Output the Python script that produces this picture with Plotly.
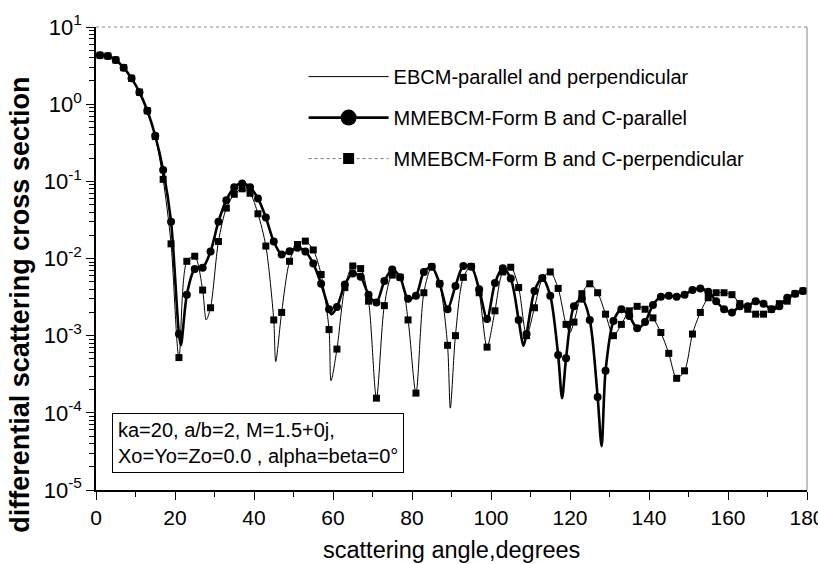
import plotly.graph_objects as go

# ---------------- data ----------------
angles = [1, 3, 5, 7, 9, 11, 13, 15, 17, 19,
          21, 23, 25, 27, 29, 31, 33, 35, 37, 39,
          41, 43, 45, 47, 49, 51, 53, 55, 57, 59,
          61, 63, 65, 67, 69, 71, 73, 75, 77, 79,
          81, 83, 85, 87, 89, 91, 93, 95, 97, 99,
          101, 103, 105, 107, 109, 111, 113, 115, 117, 119,
          121, 123, 125, 127, 129, 131, 133, 135, 137, 139,
          141, 143, 145, 147, 149, 151, 153, 155, 157, 159,
          161, 163, 165, 167, 169, 171, 173, 175, 177, 179]

parallel = [4.3, 4.2, 3.74, 2.97, 2.16, 1.43, 0.82, 0.39, 0.14, 0.030,
            1.05e-3, 3.4e-3, 7.3e-3, 7.6e-3, 0.0123, 0.030, 0.057, 0.084, 0.094, 0.084,
            0.060, 0.034, 0.0166, 0.0113, 0.0124, 0.0138, 0.0123, 8.6e-3, 4.7e-3, 2.2e-3,
            2.35e-3, 4.6e-3, 6.4e-3, 5.8e-3, 3.4e-3, 2.7e-3, 5.1e-3, 7.2e-3, 5.7e-3, 3.0e-3,
            3.3e-3, 6.7e-3, 7.8e-3, 4.7e-3, 2.2e-3, 4.4e-3, 8.0e-3, 7.8e-3, 4.0e-3, 1.65e-3,
            4.8e-3, 7.5e-3, 5.5e-3, 1.6e-3, 1.05e-3, 3.8e-3, 5.6e-3, 3.3e-3, 5.6e-4, 5.1e-4,
            2.4e-3, 3.0e-3, 1.6e-3, 1.6e-4, 3.5e-4, 1.55e-3, 2.2e-3, 1.8e-3, 1.25e-3, 1.5e-3,
            2.5e-3, 3.2e-3, 3.3e-3, 3.2e-3, 3.4e-3, 3.9e-3, 4.1e-3, 3.7e-3, 2.8e-3, 2.2e-3,
            2.0e-3, 2.4e-3, 2.4e-3, 2.8e-3, 2.6e-3, 2.2e-3, 2.4e-3, 3.1e-3, 3.5e-3, 3.8e-3]

perpendicular = [4.3, 4.2, 3.74, 2.97, 2.16, 1.43, 0.82, 0.38, 0.106, 0.0155,
                 5.2e-4, 9.2e-3, 0.0107, 3.9e-3, 2.3e-3, 0.0166, 0.045, 0.068, 0.080, 0.070,
                 0.038, 0.0145, 1.6e-3, 2.0e-3, 9.2e-3, 0.0152, 0.0168, 0.0129, 6.2e-3, 1.2e-3,
                 6.7e-4, 4.2e-3, 8.0e-3, 7.4e-3, 2.8e-3, 1.55e-4, 2.45e-3, 6.1e-3, 5.7e-3, 1.6e-3,
                 1.8e-4, 3.6e-3, 7.8e-3, 4.7e-3, 7.5e-4, 1.0e-3, 5.7e-3, 7.9e-3, 3.6e-3, 7.1e-4,
                 2.1e-3, 6.7e-3, 7.7e-3, 4.2e-3, 1.0e-3, 2.3e-3, 5.5e-3, 6.7e-3, 4.1e-3, 1.4e-3,
                 1.5e-3, 3.5e-3, 4.7e-3, 3.6e-3, 1.9e-3, 1.0e-3, 1.4e-3, 2.1e-3, 2.4e-3, 2.2e-3,
                 1.7e-3, 1.1e-3, 5.9e-4, 2.8e-4, 3.5e-4, 1.05e-3, 2.0e-3, 3.1e-3, 3.6e-3, 3.6e-3,
                 3.4e-3, 2.6e-3, 2.2e-3, 1.9e-3, 1.9e-3, 2.2e-3, 2.6e-3, 2.8e-3, 3.5e-3, 3.8e-3]

# extra points of the continuous (EBCM) curves between the 2-degree markers
parallel_dip_angles = [21.5, 59.6, 108.2, 118.0, 128.0]
parallel_dip_values = [7.5e-4, 1.9e-3, 7.4e-4, 1.55e-4, 3.7e-5]
perp_dip_angles = [27.9, 45.5, 59.5, 89.7, 120.0]
perp_dip_values = [1.6e-3, 4.6e-4, 2.6e-4, 1.15e-4, 1.1e-3]

x_tick_values = [0, 20, 40, 60, 80, 100, 120, 140, 160, 180]
x_tick_labels = ["0", "20", "40", "60", "80", "100", "120", "140", "160", "180"]
y_tick_values = [1e-5, 1e-4, 1e-3, 1e-2, 1e-1, 1, 10]
y_tick_labels = ["10<sup>-5</sup>", "10<sup>-4</sup>", "10<sup>-3</sup>", "10<sup>-2</sup>",
                 "10<sup>-1</sup>", "10<sup>0</sup>", "10<sup>1</sup>"]


def merged(xs, ys, dxs, dys):
    pts = sorted(zip(list(xs) + list(dxs), list(ys) + list(dys)))
    return [p[0] for p in pts], [p[1] for p in pts]


par_x, par_y = merged(angles, parallel, parallel_dip_angles, parallel_dip_values)
perp_x, perp_y = merged(angles, perpendicular, perp_dip_angles, perp_dip_values)

FONT = "Liberation Sans, Arial, sans-serif"

fig = go.Figure()

# EBCM curves (thin continuous lines)
fig.add_trace(go.Scatter(x=perp_x, y=perp_y, mode="lines",
                         line=dict(color="black", width=1, shape="spline", smoothing=0.8),
                         showlegend=False, hoverinfo="skip"))
fig.add_trace(go.Scatter(x=par_x, y=par_y, mode="lines",
                         line=dict(color="black", width=1, shape="spline", smoothing=0.8),
                         showlegend=False, hoverinfo="skip"))
# MMEBCM perpendicular squares
fig.add_trace(go.Scatter(x=angles, y=perpendicular, mode="markers",
                         marker=dict(symbol="square", size=7, color="black"),
                         showlegend=False))
# MMEBCM parallel: thick line + circles
fig.add_trace(go.Scatter(x=par_x, y=par_y, mode="lines",
                         line=dict(color="black", width=2.6, shape="spline", smoothing=0.8),
                         showlegend=False, hoverinfo="skip"))
fig.add_trace(go.Scatter(x=angles, y=parallel, mode="markers",
                         marker=dict(symbol="circle", size=8, color="black"),
                         showlegend=False))

# legend entries
fig.add_trace(go.Scatter(x=[None], y=[None], mode="lines", name="EBCM-parallel and perpendicular",
                         line=dict(color="black", width=1), legendgroup="a"))
fig.add_trace(go.Scatter(x=[None], y=[None], mode="lines+markers", name="MMEBCM-Form B and C-parallel",
                         line=dict(color="black", width=2.6),
                         marker=dict(symbol="circle", size=16, color="black"), legendgroup="b"))
fig.add_trace(go.Scatter(x=[None], y=[None], mode="lines+markers",
                         name="MMEBCM-Form B and C-perpendicular",
                         line=dict(color="#777777", width=1, dash="dot"),
                         marker=dict(symbol="square", size=11, color="black"), legendgroup="c"))

fig.update_layout(
    width=818, height=564,
    margin=dict(l=96, r=11, t=27, b=74, autoexpand=False),
    paper_bgcolor="white", plot_bgcolor="white",
    font=dict(family=FONT, color="black", size=20),
    showlegend=True,
    legend=dict(x=0.292, y=0.935, xanchor="left", yanchor="top",
                bgcolor="rgba(0,0,0,0)", borderwidth=0,
                font=dict(family=FONT, size=20, color="black"),
                itemsizing="trace", itemwidth=80, tracegroupgap=12),
    xaxis=dict(range=[0, 180], tickmode="array", tickvals=x_tick_values, ticktext=x_tick_labels,
               ticks="outside", ticklen=8, tickwidth=1, tickcolor="black",
               ticklabeloverflow="allow", automargin=False,
               minor=dict(tickvals=[10, 30, 50, 70, 90, 110, 130, 150, 170],
                          ticks="outside", ticklen=5, tickcolor="black"),
               showline=True, linecolor="black", linewidth=1.5, mirror=False,
               showgrid=False, zeroline=False,
               tickfont=dict(family=FONT, size=21)),
    yaxis=dict(type="log", range=[-5, 1], tickmode="array", tickvals=y_tick_values, ticktext=y_tick_labels,
               ticks="outside", ticklen=8, tickwidth=1, tickcolor="black", automargin=False,
               minor=dict(tickvals=[m * 10 ** e for e in range(-5, 1) for m in range(2, 10)],
                          ticks="outside", ticklen=5, tickcolor="black"),
               showline=True, linecolor="black", linewidth=1.5, mirror=False,
               showgrid=False, zeroline=False,
               tickfont=dict(family=FONT, size=22)),
    shapes=[
        dict(type="line", xref="paper", yref="paper", x0=0, x1=1, y0=1, y1=1,
             line=dict(color="#888888", width=1, dash="dot")),
        dict(type="line", xref="paper", yref="paper", x0=1, x1=1, y0=0, y1=1,
             line=dict(color="#888888", width=1)),
    ],
    annotations=[
        dict(xref="paper", yref="paper", x=0.022, y=0.166, xanchor="left", yanchor="top",
             text="ka=20, a/b=2, M=1.5+0j,<br>Xo=Yo=Zo=0.0 , alpha=beta=0\u00b0",
             showarrow=False, align="left", bordercolor="black", borderwidth=1, borderpad=5,
             bgcolor="white", font=dict(family=FONT, size=20, color="black")),
        dict(xref="paper", yref="paper", x=0.5, y=-0.129, xanchor="center", yanchor="middle",
             text="scattering angle,degrees", showarrow=False,
             font=dict(family=FONT, size=23.5, color="black")),
        dict(xref="paper", yref="paper", x=-0.107, y=0.40, xanchor="center", yanchor="middle",
             text="<b>differential scattering cross section</b>", textangle=-90, showarrow=False,
             font=dict(family=FONT, size=27, color="black")),
    ],
)

fig.write_html("out.html")
